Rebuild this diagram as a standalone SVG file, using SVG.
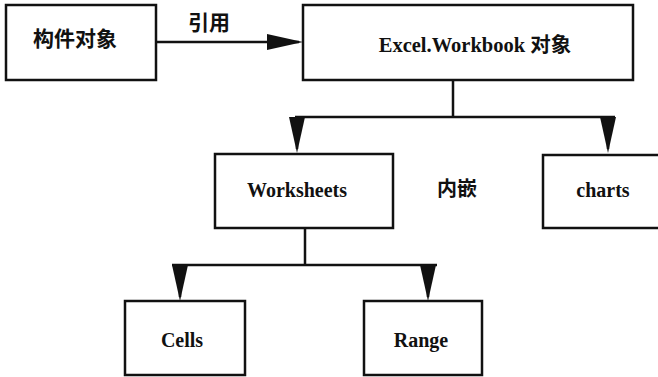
<svg xmlns="http://www.w3.org/2000/svg" width="658" height="377" viewBox="0 0 658 377">
  <defs>
    <!-- long narrow solid arrowhead shared by all connectors -->
    <marker id="arrow" markerUnits="userSpaceOnUse" markerWidth="36" markerHeight="16" refX="32" refY="8" orient="auto">
      <path d="M0,0 L36,8 L0,16 Z" fill="#111"/>
    </marker>
    <style>
      .box { fill: #fff; stroke: #111; stroke-width: 2.5; }
      .wire { fill: none; stroke: #111; stroke-width: 2.5; }
      .arrowed { marker-end: url(#arrow); }
      .lat { font-family: "Liberation Serif", "Noto Sans CJK SC", serif; font-weight: bold; font-size: 20px; fill: #111; text-anchor: middle; }
      .cjk { font-family: "Noto Sans CJK SC", sans-serif; font-weight: bold; font-size: 21px; fill: #111; text-anchor: middle; }
    </style>
  </defs>
  <rect width="658" height="377" fill="#fff"/>

  <g id="connectors">
    <!-- reference link -->
    <path class="wire arrowed" d="M156,42 H299"/>
    <text class="cjk" x="209" y="30">引用</text>
    <!-- workbook to its children -->
    <path class="wire" d="M453,80 V117 M295,117 H615"/>
    <path class="wire arrowed" d="M297,117 V149"/>
    <path class="wire arrowed" d="M608,117 V149"/>
    <text class="cjk" x="457" y="196" style="font-size:20px">内嵌</text>
    <!-- worksheets to its children -->
    <path class="wire" d="M305,228 V265 M172,265 H437"/>
    <path class="wire arrowed" d="M180,265 V297"/>
    <path class="wire arrowed" d="M428,265 V297"/>
  </g>

  <g id="component">
    <rect class="box" x="6" y="5" width="150" height="75"/>
    <text class="cjk" x="75" y="46">构件对象</text>
  </g>

  <g id="workbook">
    <rect class="box" x="303" y="5" width="330" height="75"/>
    <text class="lat" x="475" y="52" style="font-size:20.5px">Excel.Workbook 对象</text>
  </g>

  <g id="worksheets">
    <rect class="box" x="215" y="154" width="178" height="74"/>
    <text class="lat" x="297" y="197">Worksheets</text>
  </g>

  <g id="charts">
    <rect class="box" x="543" y="155" width="130" height="73"/>
    <text class="lat" x="603" y="197">charts</text>
  </g>

  <g id="cells">
    <rect class="box" x="125" y="301" width="120" height="74"/>
    <text class="lat" x="182" y="347">Cells</text>
  </g>

  <g id="range">
    <rect class="box" x="364" y="301" width="118" height="74"/>
    <text class="lat" x="421" y="347">Range</text>
  </g>
</svg>
